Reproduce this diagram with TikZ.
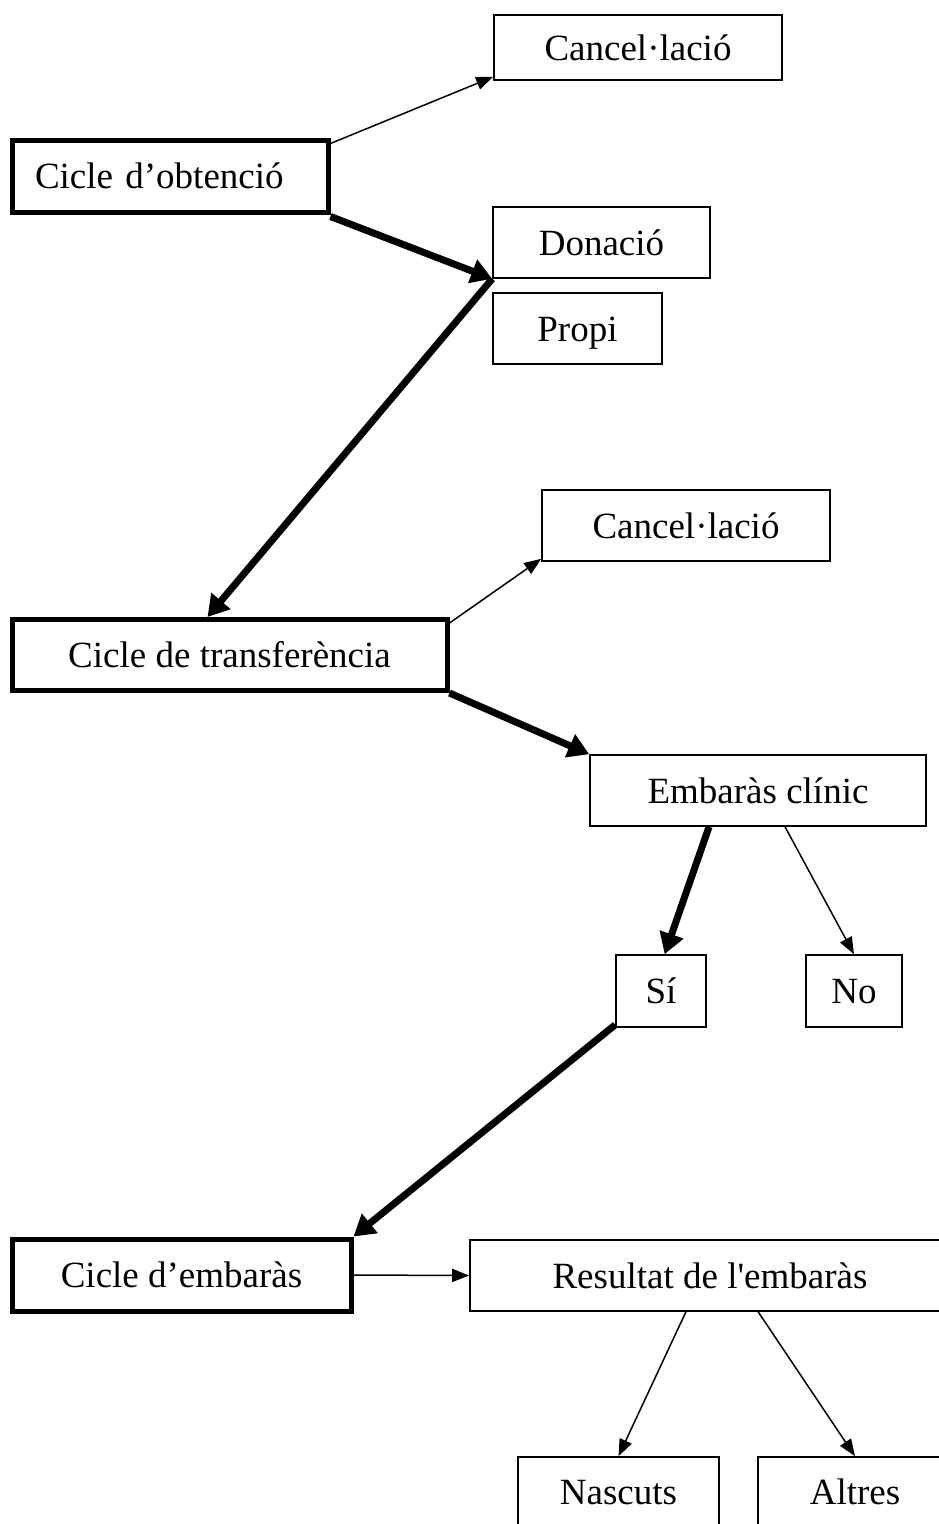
\documentclass[tikz,border=0pt]{standalone}
\usepackage{fontspec}
\setmainfont{Liberation Serif}[Ligatures=TeXOff]
\usepackage{tikz}
\usetikzlibrary{arrows.meta, calc}

\tikzset{
  box/.style={draw, line width=1.6pt, inner sep=0pt, text height=33pt, text depth=8pt,
    font=\fontsize{37}{42}\selectfont},
  mainbox/.style={box, line width=5pt},
  thinarrow/.style={line width=1.5pt, -{Triangle[length=17pt,width=13pt]}},
  thickarrow/.style={line width=7pt, -{Triangle[length=21pt,width=24pt]}}
}

\begin{document}
\begin{tikzpicture}[x=1pt, y=-1pt]
\useasboundingbox (0,0) rectangle (939,1524);

% Cycle boxes
\node[mainbox, inner xsep=23pt, text width=270pt, align=left, minimum height=72pt] (obt) at (170,176) {Cicle d’obtenció};
\node[mainbox, minimum width=435pt, minimum height=71pt] (trans) at (229.5,655) {Cicle de transferència};
\node[mainbox, minimum width=339pt, minimum height=72pt] (cemb) at (181.5,1275) {Cicle d’embaràs};

% Outcome boxes
\node[box, minimum width=288pt, minimum height=65pt] (canc1) at (638,47.5) {Cancel·lació};
\node[box, minimum width=217pt, minimum height=71pt] (don) at (601.5,242.5) {Donació};
\node[box, minimum width=169pt, minimum height=71pt] (propi) at (577.5,328.5) {Propi};
\node[box, minimum width=288pt, minimum height=71pt] (canc2) at (686,525.5) {Cancel·lació};
\node[box, minimum width=336pt, minimum height=71pt] (emb) at (758,790.5) {Embaràs clínic};
\node[box, minimum width=90pt, minimum height=72pt] (si) at (661,991) {Sí};
\node[box, minimum width=96pt, minimum height=72pt] (no) at (854,991) {No};
\node[box, minimum width=480pt, minimum height=71pt] (res) at (710,1275.5) {Resultat de l{\char"27}embaràs};
\node[box, minimum width=201pt, minimum height=70pt] (nas) at (618.5,1492) {Nascuts};
\node[box, minimum width=194pt, minimum height=70pt] (alt) at (855,1492) {Altres};

% Arrows
\draw[thinarrow] ([yshift=-6pt]obt.north east) -- ([yshift=4pt]canc1.south west);
\draw[thickarrow] ([yshift=-2pt]obt.south east) -- (don.south west);
\draw[thickarrow] (don.south west) -- ($(trans.north west)!0.45!(trans.north east)$);
\draw[thinarrow] ([yshift=-6pt]trans.north east) -- ([yshift=3pt]canc2.south west);
\draw[thickarrow] (trans.south east) -- (emb.north west);
\draw[thickarrow] ($(emb.south west)!0.355!(emb.south east)$) -- ($(si.north west)!0.54!(si.north east)$);
\draw[thinarrow] ($(emb.south west)!0.58!(emb.south east)$) -- (no.north);
\draw[thickarrow] ([yshift=3pt]si.south west) -- (cemb.north east);
\draw[thinarrow] (cemb.east) -- (res.west);
\draw[thinarrow] ($(res.south west)!0.45!(res.south east)$) -- (nas.north);
\draw[thinarrow] ($(res.south west)!0.6!(res.south east)$) -- (alt.north);

\end{tikzpicture}
\end{document}
